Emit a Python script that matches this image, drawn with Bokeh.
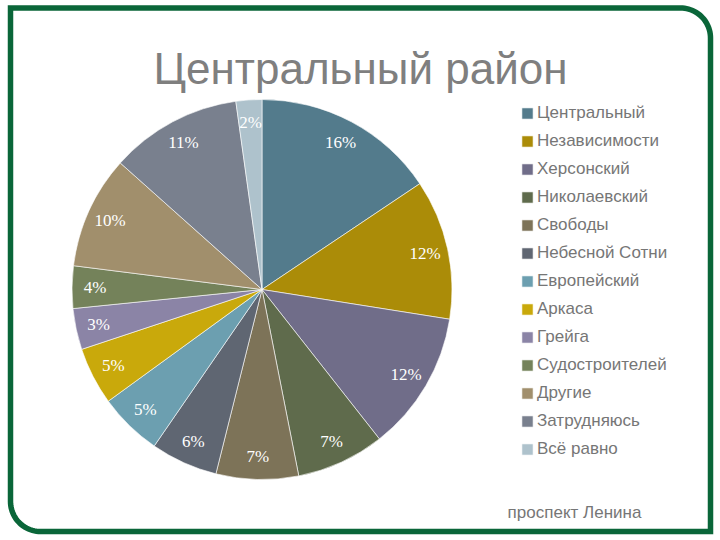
import numpy as np
from bokeh.plotting import figure
from bokeh.models import ColumnDataSource, Legend, LegendItem, Label
from bokeh.embed import file_html
from bokeh.resources import INLINE

categories = ["Центральный", "Независимости", "Херсонский", "Николаевский", "Свободы",
              "Небесной Сотни", "Европейский", "Аркаса", "Грейга", "Судостроителей",
              "Другие", "Затрудняюсь", "Всё равно"]
values = [15.6, 11.9, 11.9, 7.5, 7.0, 5.7, 5.4, 4.9, 3.5, 3.6, 9.6, 11.2, 2.2]
labels = ["16%", "12%", "12%", "7%", "7%", "6%", "5%", "5%", "3%", "4%", "10%", "11%", "2%"]
colors = ["#537B8C", "#AB8C08", "#706D89", "#5F6B4C", "#7D7358", "#5F6672", "#6C9FB0",
          "#C9A90B", "#8B84A6", "#74825A", "#A18F6C", "#79808E", "#AEC2CC"]
title = "Центральный район"
footer = "проспект Ленина"

W, H = 720, 540
CX, CY, R, LABEL_R = 261.5, 251.0, 190.0, 167.0
FONT = "'Liberation Sans', Arial, sans-serif"

vals = np.array(values)
frac = vals / vals.sum()
edges = np.concatenate([[0.0], np.cumsum(frac)]) * 2 * np.pi
start = np.pi / 2 - edges[:-1]
end = np.pi / 2 - edges[1:]
mid = (start + end) / 2

src = ColumnDataSource(dict(
    start=start, end=end, color=colors, cat=categories, label=labels,
    cx=[CX] * len(vals), cy=[CY] * len(vals),
    lx=CX + LABEL_R * np.cos(mid), ly=CY + LABEL_R * np.sin(mid),
))

p = figure(width=W, height=H, x_range=(0, W), y_range=(0, H),
           output_backend="svg", toolbar_location=None,
           x_axis_location=None, y_axis_location=None, min_border=0,
           outline_line_color=None, background_fill_color="white",
           styles={"position": "absolute", "left": "0px", "top": "0px"})
p.grid.visible = False

# frame: square top-left and bottom-right corners, rounded top-right and bottom-left
L, T, RT, B, RAD = 10.0, H - 7.5, 710.0, H - 531.0, 30.0
a1 = np.linspace(np.pi / 2, 0, 24)
a2 = np.linspace(np.pi, 3 * np.pi / 2, 24)
fx = np.concatenate([[L], RT - RAD + RAD * np.cos(a1), [RT, L + RAD], L + RAD + RAD * np.cos(a2)[::-1], [L]])
fy = np.concatenate([[T], T - RAD + RAD * np.sin(a1), [B, B], B + RAD + RAD * np.sin(a2)[::-1], [T]])
p.line(fx, fy, line_color="#0A6639", line_width=5.5, line_join="miter", line_cap="square")

pie = p.wedge(x="cx", y="cy", radius=R, start_angle="start", end_angle="end",
              direction="clock", fill_color="color", line_color="white", line_width=0.6,
              source=src)
p.text(x="lx", y="ly", text="label", text_color="white", text_font=FONT,
       text_font_size="17px", text_align="center", text_baseline="middle", source=src)

p.add_layout(Label(x=360, y=H - 68, text=title, text_align="center", text_baseline="middle",
                   text_color="#7F7F7F", text_font=FONT, text_font_size="44px"))
p.add_layout(Label(x=574, y=H - 512, text=footer, text_align="center", text_baseline="middle",
                   text_color="#767676", text_font=FONT, text_font_size="17px"))

legend = Legend(
    items=[LegendItem(label=c, renderers=[pie], index=i) for i, c in enumerate(categories)],
    location=(520, H - 459), orientation="vertical", padding=0, margin=0, spacing=8,
    glyph_width=14, glyph_height=14, label_standoff=3, label_height=20,
    label_text_font=FONT, label_text_font_size="17px", label_text_color="#767676",
    background_fill_alpha=0, border_line_color=None)
p.add_layout(legend)

open("out.html", "w").write(file_html(p, INLINE))
